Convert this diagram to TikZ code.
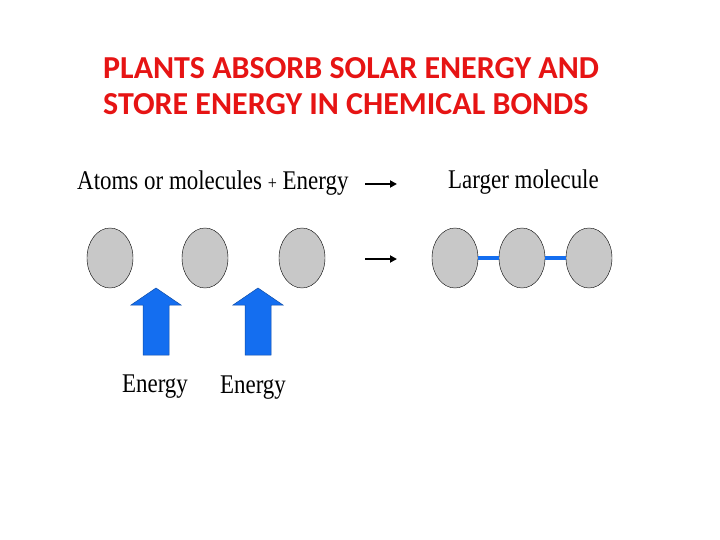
\documentclass[tikz,border=0pt]{standalone}
\usepackage{fontspec}
\setmainfont{Liberation Serif}
\newfontfamily\titlefont{Carlito}
\usetikzlibrary{arrows.meta,shapes.geometric}
\definecolor{ttl}{RGB}{230,20,20}
\definecolor{bl}{RGB}{20,110,240}
\definecolor{gr}{RGB}{200,200,200}
\tikzset{
 atom/.style={ellipse,draw=black,thin,fill=gr,minimum width=46pt,minimum height=60pt,inner sep=0pt},
 lbl/.style={inner sep=0pt,font=\fontsize{27}{30}\selectfont},
 ttlstyle/.style={anchor=west,inner sep=0pt,text=ttl,font=\titlefont\bfseries\fontsize{32}{36}\selectfont},
 rxn/.style={-{Triangle[length=7pt,width=7pt]},line width=2pt},
 bond/.style={bl,line width=4pt},
 uparrow/.style={fill=bl,draw=bl!70!black,line width=0.5pt}
}
\begin{document}
\begin{tikzpicture}[x=1pt,y=-1pt]
\useasboundingbox (0,0) rectangle (720,540);
\node[ttlstyle] (t1) at (103,68) {PLANTS ABSORB SOLAR ENERGY AND};
\node[ttlstyle] (t2) at (103,104) {STORE ENERGY IN CHEMICAL BONDS};
\node[lbl,anchor=west] (lhs) at (77,183) {\scalebox{0.85}[1]{Atoms or molecules {\fontsize{19}{22}\selectfont+} Energy}};
\node[lbl,anchor=west] (rhs) at (448,182) {\scalebox{0.85}[1]{Larger molecule}};
\coordinate (r1a) at (365,184); \coordinate (r1b) at (397,184);
\coordinate (r2a) at (365,259); \coordinate (r2b) at (397,259);
\draw[rxn] (r1a) -- (r1b);
\draw[rxn] (r2a) -- (r2b);
\node[atom] (a1) at (110,258) {};
\node[atom] (a2) at (205,258) {};
\node[atom] (a3) at (302,258) {};
\node[atom] (b1) at (455,258) {};
\node[atom] (b2) at (522,258) {};
\node[atom] (b3) at (589,258) {};
\draw[bond] (b1) -- (b2);
\draw[bond] (b2) -- (b3);
\foreach \x in {156,258}{
 \draw[uparrow] (\x-13,355) -- (\x-13,305) -- (\x-25,305) -- (\x,288) -- (\x+25,305) -- (\x+13,305) -- (\x+13,355) -- cycle;
}
\node[lbl] (e1) at (155,387) {\scalebox{0.85}[1]{Energy}};
\node[lbl] (e2) at (253,388) {\scalebox{0.85}[1]{Energy}};
\end{tikzpicture}
\end{document}
